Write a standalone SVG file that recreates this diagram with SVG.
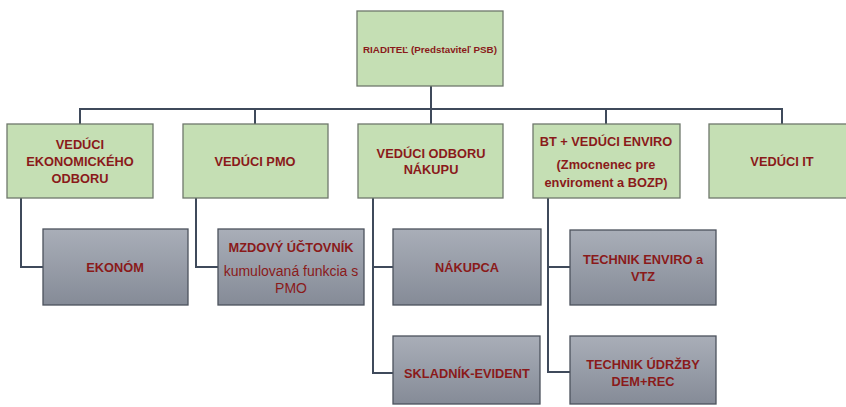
<svg xmlns="http://www.w3.org/2000/svg" width="846" height="407" viewBox="0 0 846 407">
<defs>
<linearGradient id="gr" x1="0" y1="0" x2="0" y2="1">
<stop offset="0" stop-color="#a9aeb8"/>
<stop offset="1" stop-color="#858b97"/>
</linearGradient>
<style>
.g{fill:#c5dfb4;stroke:#6f786c;stroke-width:1.3}
.s{fill:url(#gr);stroke:#4c525c;stroke-width:1.3}
.t{font-family:"Liberation Sans",Arial,sans-serif;font-weight:bold;font-size:12.8px;fill:#8a1a1a;text-anchor:middle;dominant-baseline:central}
.n{font-weight:normal;font-size:14px}
.c{fill:none;stroke:#3f4a5b;stroke-width:2}
</style>
</defs>
<rect width="846" height="407" fill="#fff"/>
<g id="connectors">
<path class="c" d="M431,86V109M80,124V109H782V124M255,109V124M431,109V124M606,109V124"/>
<path class="c" d="M21,198V267H43M196,198V267H218M373,198V373H393M373,267H393M548,198V372H570M548,267H570"/>
</g>
<g id="riaditel"><rect class="g" x="357" y="11" width="146" height="75"/><text class="t" x="430" y="49" style="font-size:9.8px">RIADITEĽ (Predstaviteľ PSB)</text></g>
<g id="ved-ekon"><rect class="g" x="7" y="124" width="146" height="74"/><text class="t" x="80" y="144">VEDÚCI</text><text class="t" x="80" y="161">EKONOMICKÉHO</text><text class="t" x="80" y="178">ODBORU</text></g>
<g id="ved-pmo"><rect class="g" x="183" y="124" width="145" height="74"/><text class="t" x="255" y="161">VEDÚCI PMO</text></g>
<g id="ved-nakup"><rect class="g" x="358" y="124" width="145" height="74"/><text class="t" x="431" y="153">VEDÚCI ODBORU</text><text class="t" x="431" y="169">NÁKUPU</text></g>
<g id="ved-enviro"><rect class="g" x="533" y="124" width="147" height="74"/><text class="t" x="606" y="141">BT + VEDÚCI ENVIRO</text><text class="t" x="606" y="164">(Zmocnenec pre</text><text class="t" x="606" y="182">enviroment a BOZP)</text></g>
<g id="ved-it"><rect class="g" x="709" y="124" width="146" height="74"/><text class="t" x="782" y="161">VEDÚCI IT</text></g>
<g id="ekonom"><rect class="s" x="43" y="229" width="145" height="76"/><text class="t" x="115" y="267">EKONÓM</text></g>
<g id="mzdovy"><rect class="s" x="218" y="229" width="146" height="76"/><text class="t" x="291" y="247">MZDOVÝ ÚČTOVNÍK</text><text class="t n" x="291" y="271">kumulovaná funkcia s</text><text class="t n" x="291" y="288">PMO</text></g>
<g id="nakupca"><rect class="s" x="393" y="229" width="148" height="76"/><text class="t" x="467" y="267">NÁKUPCA</text></g>
<g id="tech-enviro"><rect class="s" x="570" y="230" width="146" height="75"/><text class="t" x="643" y="259">TECHNIK ENVIRO a</text><text class="t" x="643" y="276">VTZ</text></g>
<g id="skladnik"><rect class="s" x="393" y="336" width="147" height="68"/><text class="t" x="467" y="373">SKLADNÍK-EVIDENT</text></g>
<g id="tech-udrzby"><rect class="s" x="570" y="336" width="146" height="68"/><text class="t" x="643" y="364">TECHNIK ÚDRŽBY</text><text class="t" x="643" y="381">DEM+REC</text></g>
</svg>
